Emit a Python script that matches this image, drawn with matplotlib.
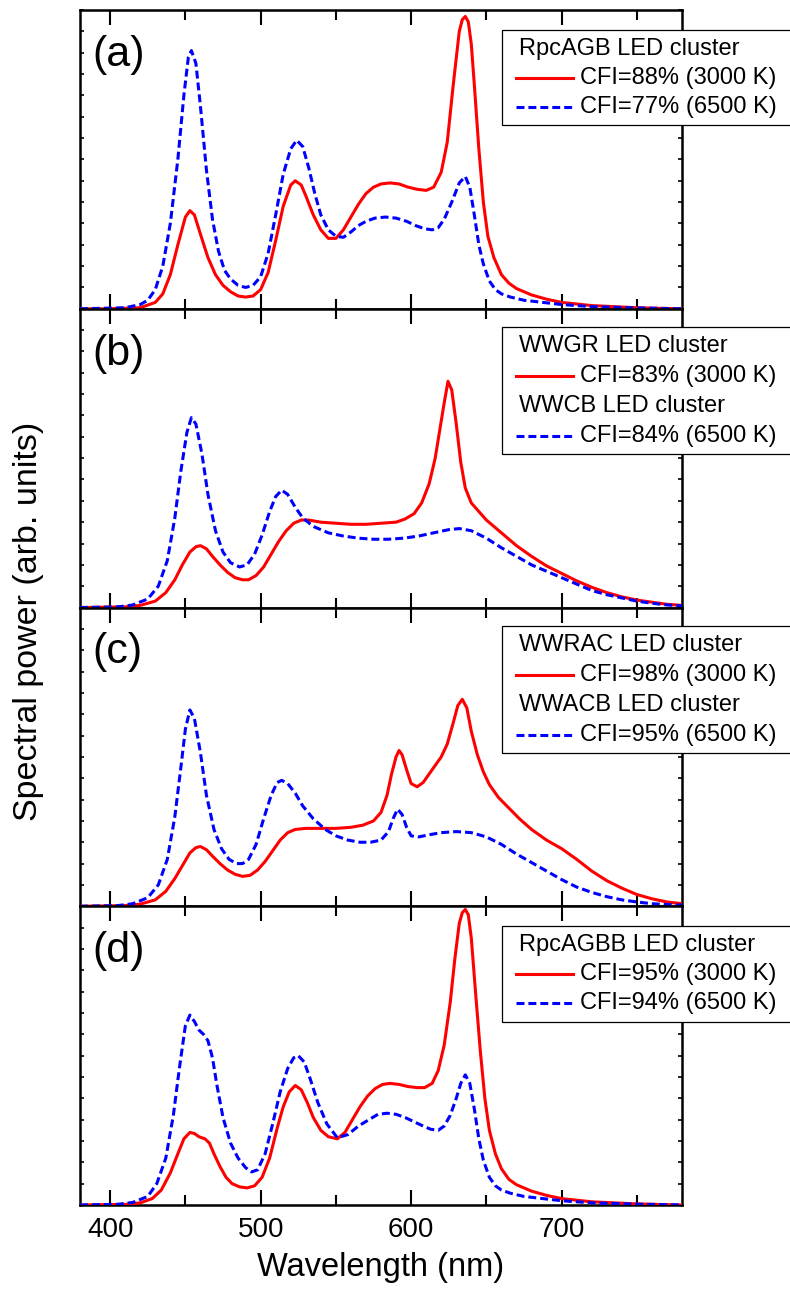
import matplotlib
matplotlib.use("Agg")
import matplotlib.pyplot as plt
from matplotlib.ticker import MultipleLocator
from matplotlib.patches import Rectangle

plt.rcParams['font.family'] = ['Liberation Sans', 'DejaVu Sans']

# ---- data ----
wl_a_red = [380, 400, 420, 430, 435, 440, 445, 450, 453, 456, 460, 465, 470, 475, 480, 485, 490, 495, 500, 505,
            510, 515, 520, 523, 527, 530, 535, 540, 545, 550, 555, 560, 565, 570, 575, 580, 586, 592, 598, 604,
            610, 615, 620, 624, 628, 632, 634, 636, 638, 640, 642, 645, 648, 651, 655, 660, 665, 670, 680, 690,
            700, 720, 750, 780]
a_red = [0, 0, 0.005, 0.03, 0.07, 0.16, 0.30, 0.43, 0.46, 0.44, 0.35, 0.24, 0.16, 0.11, 0.08, 0.06, 0.055, 0.06,
         0.09, 0.17, 0.32, 0.48, 0.58, 0.60, 0.58, 0.53, 0.44, 0.37, 0.33, 0.33, 0.37, 0.43, 0.49, 0.54, 0.57,
         0.585, 0.59, 0.585, 0.57, 0.56, 0.555, 0.57, 0.64, 0.78, 1.05, 1.30, 1.355, 1.37, 1.345, 1.24, 1.05,
         0.75, 0.50, 0.34, 0.24, 0.16, 0.12, 0.095, 0.065, 0.045, 0.03, 0.015, 0.005, 0]

wl_a_blue = [380, 410, 420, 425, 430, 435, 440, 445, 449, 452, 454, 457, 460, 464, 468, 472, 476, 480, 485, 490,
             495, 500, 505, 510, 515, 520, 524, 528, 532, 536, 540, 545, 550, 555, 560, 565, 570, 576, 583, 590,
             597, 603, 609, 614, 618, 622, 627, 632, 636, 639, 642, 645, 648, 652, 656, 660, 666, 675, 690, 700,
             720, 750, 780]
a_blue = [0, 0.005, 0.02, 0.04, 0.09, 0.20, 0.40, 0.70, 1.00, 1.18, 1.21, 1.15, 0.95, 0.65, 0.42, 0.27, 0.18, 0.14,
          0.11, 0.10, 0.11, 0.15, 0.26, 0.44, 0.63, 0.75, 0.79, 0.76, 0.66, 0.54, 0.44, 0.37, 0.34, 0.335, 0.36,
          0.39, 0.41, 0.425, 0.43, 0.425, 0.41, 0.39, 0.375, 0.37, 0.38, 0.42, 0.50, 0.59, 0.62, 0.57, 0.44, 0.30,
          0.21, 0.13, 0.09, 0.07, 0.055, 0.04, 0.028, 0.02, 0.01, 0.004, 0]

wl_b_red = [380, 410, 420, 430, 437, 443, 448, 453, 457, 460, 464, 468, 473, 478, 483, 488, 492, 497, 502, 507,
            512, 517, 522, 527, 532, 540, 550, 560, 570, 580, 590, 596, 602, 607, 612, 616, 619, 622, 624.5, 627,
            630, 633, 636, 640, 645, 650, 655, 660, 670, 680, 690, 700, 710, 720, 730, 740, 750, 760, 770, 780]
b_red = [0, 0.003, 0.01, 0.03, 0.07, 0.13, 0.20, 0.26, 0.285, 0.29, 0.275, 0.24, 0.20, 0.165, 0.14, 0.13, 0.13,
         0.15, 0.19, 0.25, 0.31, 0.36, 0.395, 0.41, 0.41, 0.40, 0.395, 0.39, 0.39, 0.395, 0.40, 0.415, 0.44, 0.49,
         0.58, 0.70, 0.83, 0.96, 1.06, 1.02, 0.86, 0.68, 0.56, 0.49, 0.45, 0.41, 0.38, 0.35, 0.29, 0.24, 0.195,
         0.16, 0.125, 0.095, 0.07, 0.05, 0.035, 0.025, 0.015, 0.01]

wl_b_blue = [380, 405, 415, 425, 432, 438, 443, 447, 451, 454, 457, 461, 465, 470, 475, 480, 486, 491, 496, 501,
             506, 510, 514, 518, 523, 528, 535, 545, 555, 565, 575, 585, 595, 605, 615, 625, 632, 640, 650, 660,
             670, 680, 690, 700, 710, 720, 730, 740, 750, 760, 770, 780]
b_blue = [0, 0.003, 0.012, 0.04, 0.10, 0.22, 0.42, 0.64, 0.82, 0.89, 0.86, 0.72, 0.53, 0.36, 0.26, 0.21, 0.19,
          0.20, 0.25, 0.34, 0.45, 0.52, 0.55, 0.53, 0.47, 0.42, 0.38, 0.35, 0.335, 0.325, 0.32, 0.32, 0.325, 0.335,
          0.35, 0.365, 0.37, 0.36, 0.325, 0.28, 0.24, 0.20, 0.17, 0.14, 0.11, 0.08, 0.06, 0.045, 0.03, 0.02, 0.012,
          0.008]

wl_c_red = [380, 410, 420, 430, 437, 443, 448, 453, 457, 460, 464, 468, 473, 478, 483, 488, 493, 498, 503, 508,
            513, 518, 523, 530, 540, 550, 560, 568, 575, 580, 584, 587, 590, 592, 594, 597, 600, 604, 608, 612,
            616, 620, 624, 628, 631, 634, 637, 640, 644, 648, 652, 658, 665, 672, 680, 690, 700, 710, 720, 730,
            740, 750, 760, 770, 780]
c_red = [0, 0.003, 0.01, 0.03, 0.07, 0.13, 0.19, 0.25, 0.275, 0.28, 0.265, 0.235, 0.20, 0.17, 0.15, 0.14, 0.145,
         0.17, 0.21, 0.26, 0.31, 0.345, 0.36, 0.365, 0.365, 0.365, 0.37, 0.38, 0.40, 0.44, 0.52, 0.62, 0.70, 0.73,
         0.71, 0.64, 0.575, 0.56, 0.58, 0.62, 0.66, 0.70, 0.76, 0.86, 0.94, 0.97, 0.93, 0.82, 0.71, 0.63, 0.57,
         0.51, 0.46, 0.41, 0.36, 0.31, 0.27, 0.22, 0.165, 0.12, 0.085, 0.055, 0.035, 0.02, 0.012]

wl_c_blue = [380, 405, 415, 425, 432, 438, 443, 447, 450, 453, 456, 460, 464, 469, 474, 479, 484, 488, 492, 497,
             502, 507, 511, 514, 518, 523, 528, 535, 543, 550, 558, 566, 573, 580, 585, 588, 591, 594, 597, 600,
             605, 612, 620, 630, 640, 650, 660, 670, 680, 690, 700, 710, 720, 730, 740, 750, 760, 770, 780]
c_blue = [0, 0.003, 0.012, 0.04, 0.10, 0.22, 0.42, 0.65, 0.83, 0.92, 0.88, 0.72, 0.52, 0.36, 0.27, 0.22, 0.20,
          0.20, 0.22, 0.29, 0.41, 0.52, 0.58, 0.59, 0.575, 0.53, 0.47, 0.41, 0.36, 0.33, 0.31, 0.30, 0.30, 0.31,
          0.35, 0.41, 0.455, 0.43, 0.37, 0.33, 0.325, 0.335, 0.345, 0.35, 0.345, 0.325, 0.29, 0.245, 0.205, 0.165,
          0.125, 0.09, 0.065, 0.045, 0.03, 0.02, 0.012, 0.008, 0.005]

wl_d_red = [380, 410, 420, 428, 434, 440, 445, 449, 453, 456, 459, 463, 466, 469, 473, 477, 481, 486, 491, 496,
            501, 506, 511, 515, 519, 523, 527, 531, 535, 540, 545, 551, 556, 561, 566, 571, 576, 581, 586, 592,
            598, 604, 609, 614, 618, 622, 626, 629, 632, 634, 636, 638, 640, 643, 646, 649, 652, 656, 660, 665,
            670, 680, 690, 700, 720, 750, 780]
d_red = [0, 0.003, 0.01, 0.03, 0.07, 0.15, 0.24, 0.31, 0.34, 0.335, 0.32, 0.31, 0.29, 0.24, 0.18, 0.13, 0.10,
         0.085, 0.08, 0.09, 0.13, 0.22, 0.36, 0.46, 0.53, 0.56, 0.54, 0.48, 0.41, 0.35, 0.32, 0.31, 0.34, 0.40,
         0.46, 0.51, 0.545, 0.565, 0.57, 0.565, 0.555, 0.55, 0.55, 0.57, 0.63, 0.75, 0.95, 1.15, 1.32, 1.37,
         1.385, 1.36, 1.25, 0.98, 0.72, 0.50, 0.35, 0.24, 0.17, 0.12, 0.095, 0.065, 0.045, 0.03, 0.015, 0.005, 0]

wl_d_blue = [380, 405, 415, 425, 431, 437, 442, 446, 450, 453, 456, 459, 462, 465, 468, 471, 475, 480, 485, 490,
             494, 498, 503, 508, 513, 518, 522, 525, 529, 533, 538, 544, 551, 558, 565, 572, 578, 584, 590, 596,
             602, 608, 613, 618, 622, 626, 630, 633, 636, 639, 642, 645, 648, 652, 656, 660, 666, 675, 690, 700,
             720, 750, 780]
d_blue = [0, 0.003, 0.012, 0.04, 0.10, 0.22, 0.42, 0.64, 0.84, 0.89, 0.86, 0.82, 0.80, 0.77, 0.69, 0.56, 0.41,
          0.29, 0.22, 0.175, 0.155, 0.165, 0.24, 0.38, 0.53, 0.64, 0.69, 0.70, 0.67, 0.59, 0.48, 0.38, 0.315,
          0.33, 0.37, 0.40, 0.425, 0.43, 0.425, 0.41, 0.39, 0.37, 0.355, 0.35, 0.37, 0.42, 0.50, 0.57, 0.61, 0.57,
          0.45, 0.31, 0.21, 0.13, 0.09, 0.07, 0.055, 0.04, 0.028, 0.02, 0.01, 0.004, 0]

panel_labels = ['(a)', '(b)', '(c)', '(d)']
legends = [
    [('RpcAGB LED cluster', None), ('CFI=88% (3000 K)', 'r'), ('CFI=77% (6500 K)', 'b')],
    [('WWGR LED cluster', None), ('CFI=83% (3000 K)', 'r'), ('WWCB LED cluster', None), ('CFI=84% (6500 K)', 'b')],
    [('WWRAC LED cluster', None), ('CFI=98% (3000 K)', 'r'), ('WWACB LED cluster', None), ('CFI=95% (6500 K)', 'b')],
    [('RpcAGBB LED cluster', None), ('CFI=95% (3000 K)', 'r'), ('CFI=94% (6500 K)', 'b')],
]
reds = [(wl_a_red, a_red), (wl_b_red, b_red), (wl_c_red, c_red), (wl_d_red, d_red)]
blues = [(wl_a_blue, a_blue), (wl_b_blue, b_blue), (wl_c_blue, c_blue), (wl_d_blue, d_blue)]

RED = '#ff0000'
BLUE = '#0000ff'
LW = 2.2
DASH = (2.6, 1.3)

fig, axes = plt.subplots(4, 1, figsize=(7.9, 12.9), dpi=100, sharex=True)
fig.subplots_adjust(left=0.1013, right=0.8633, top=0.9922, bottom=0.0659, hspace=0)

ph = 298.0  # panel height in px
for i, ax in enumerate(axes):
    ax.plot(reds[i][0], reds[i][1], color=RED, lw=LW, zorder=3)
    ax.plot(blues[i][0], blues[i][1], color=BLUE, lw=LW, dashes=DASH, zorder=4)
    ax.set_xlim(380, 780)
    ax.set_ylim(0, 1.4)
    ax.xaxis.set_major_locator(MultipleLocator(100))
    ax.xaxis.set_minor_locator(MultipleLocator(50))
    ax.yaxis.set_major_locator(MultipleLocator(0.1))
    ax.tick_params(axis='x', which='major', direction='in', length=11, width=1.5, top=True, bottom=True,
                   labelsize=20, pad=9)
    ax.tick_params(axis='x', which='minor', direction='in', length=7, width=1.5, top=True, bottom=True)
    ax.tick_params(axis='y', which='major', direction='in', length=3, width=1.2, left=True, right=True,
                   labelleft=False)
    for s in ax.spines.values():
        s.set_linewidth(1.8)
    ax.text(0.02, 0.85, panel_labels[i], transform=ax.transAxes, fontsize=31, ha='left', va='center')

    # legend box drawn by hand so that header rows sit flush left
    rows = legends[i]
    top_px = 18 if len(rows) == 4 else 20
    first = top_px + 19
    step = 30 if len(rows) == 4 else 29
    box_bottom = first + step * (len(rows) - 1) + 18
    ax.add_patch(Rectangle((0.701, 1 - box_bottom / ph), 0.6, (box_bottom - top_px) / ph,
                           transform=ax.transAxes, facecolor='white', edgecolor='black', lw=0.9,
                           clip_on=False, zorder=5))
    for k, (txt, style) in enumerate(rows):
        yy = 1 - (first + step * k) / ph
        if style is None:
            ax.text(0.729, yy, txt, transform=ax.transAxes, fontsize=17, ha='left', va='center',
                    zorder=6, clip_on=False)
        else:
            if style == 'r':
                ax.plot([0.724, 0.819], [yy, yy], transform=ax.transAxes, color=RED, lw=LW,
                        clip_on=False, zorder=6)
            else:
                ax.plot([0.724, 0.819], [yy, yy], transform=ax.transAxes, color=BLUE, lw=LW,
                        dashes=DASH, clip_on=False, zorder=6)
            ax.text(0.831, yy, txt, transform=ax.transAxes, fontsize=17, ha='left', va='center',
                    zorder=6, clip_on=False)

axes[-1].set_xlabel('Wavelength (nm)', fontsize=23.5, labelpad=6)
fig.text(0.036, 0.518, 'Spectral power (arb. units)', rotation=90, fontsize=24.5, ha='center', va='center')

fig.savefig('out.png', dpi=100)
